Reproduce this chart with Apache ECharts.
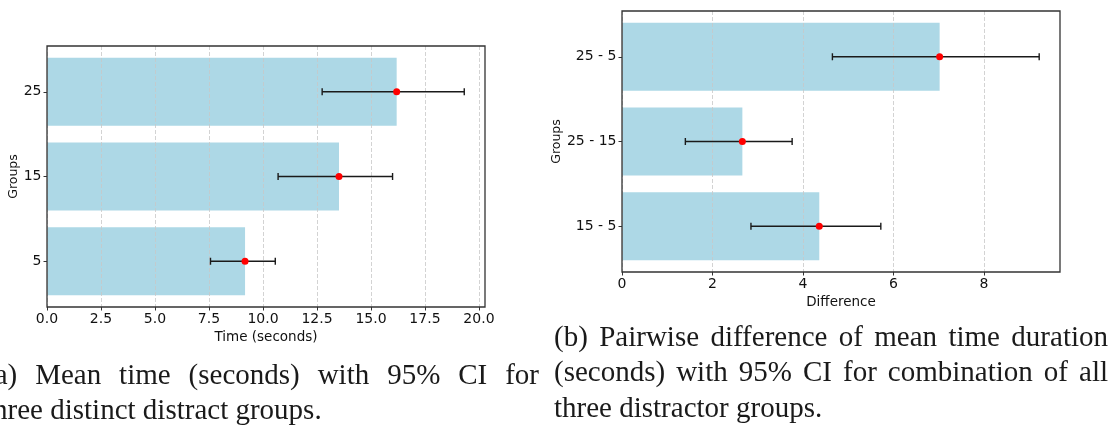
<!DOCTYPE html>
<html>
<head>
<meta charset="utf-8">
<script src="https://cdn.jsdelivr.net/npm/echarts@6/dist/echarts.min.js"></script>
<style>
  html, body {
    margin: 0;
    padding: 0;
    background: #fff;
  }
  .page {
    position: relative;
    width: 1116px;
    height: 428px;
    overflow: hidden;
  }
  #chart {
    position: absolute;
    left: 0;
    top: 0;
    width: 1116px;
    height: 428px;
  }
  .caption {
    position: absolute;
    font-family: "Liberation Serif", "DejaVu Serif", serif;
    font-size: 29px;
    line-height: 35.3px;
    color: #1a1a1a;
  }
  .caption .just {
    text-align: justify;
    text-align-last: justify;
  }
  .cap-a {
    left: -15px;
    top: 357px;
    width: 554px;
  }
  .cap-b {
    left: 554px;
    top: 319px;
    width: 554px;
  }
</style>
</head>
<body>
<div class="page">
  <div id="chart"></div>
  <div class="caption cap-a">
    <div class="just">(a) Mean time (seconds) with 95% CI for</div>
    <div>three distinct distract groups.</div>
  </div>
  <div class="caption cap-b">
    <div class="just">(b) Pairwise difference of mean time duration</div>
    <div class="just">(seconds) with 95% CI for combination of all</div>
    <div>three distractor groups.</div>
  </div>
</div>

<script>
// (a) mean time per group, bottom to top
const leftGroups = ['5', '15', '25'];
const leftMeans = [9.17, 13.52, 16.19];
const leftLow = [7.57, 10.70, 12.74];
const leftHigh = [10.57, 16.00, 19.32];
const leftTicks = [0, 2.5, 5, 7.5, 10, 12.5, 15, 17.5, 20];

// (b) pairwise differences, bottom to top
const rightGroups = ['15 - 5', '25 - 15', '25 - 5'];
const rightMeans = [4.36, 2.66, 7.02];
const rightLow = [2.85, 1.40, 4.65];
const rightHigh = [5.72, 3.76, 9.22];
const rightTicks = [0, 2, 4, 6, 8];

const groupIdx = [0, 1, 2];
const font = 'DejaVu Sans';
const textColor = '#111';
const barColor = '#ADD8E6';

function barItem(params, api) {
  const v = api.value(0);
  const i = api.value(1);
  const p0 = api.coord([0, i + 0.4]);
  const p1 = api.coord([v, i - 0.4]);
  return {
    type: 'rect',
    shape: { x: p0[0], y: p0[1], width: p1[0] - p0[0], height: p1[1] - p0[1] },
    style: { fill: barColor }
  };
}

function errItem(params, api) {
  const a = api.coord([api.value(0), api.value(2)]);
  const b = api.coord([api.value(1), api.value(2)]);
  const cap = 3.5;
  const style = { stroke: '#1a1a1a', lineWidth: 1.4 };
  return {
    type: 'group',
    children: [
      { type: 'line', shape: { x1: a[0], y1: a[1], x2: b[0], y2: b[1] }, style },
      { type: 'line', shape: { x1: a[0], y1: a[1] - cap, x2: a[0], y2: a[1] + cap }, style },
      { type: 'line', shape: { x1: b[0], y1: b[1] - cap, x2: b[0], y2: b[1] + cap }, style }
    ]
  };
}

function xAxisFor(gridIndex, name, max, interval, ticks, fmt) {
  return {
    type: 'value',
    gridIndex,
    min: 0,
    max,
    interval,
    z: 3,
    name,
    nameLocation: 'middle',
    nameGap: 22,
    nameTextStyle: { fontFamily: font, fontSize: 13.5, color: textColor },
    axisLine: { show: false, onZero: false },
    axisTick: { show: true, length: 3.5, customValues: ticks, lineStyle: { color: '#333', width: 1 } },
    axisLabel: { customValues: ticks, formatter: fmt, margin: 5, fontFamily: font, fontSize: 14, color: textColor },
    splitLine: { show: true, lineStyle: { color: '#c8c8c8', width: 0.8, type: [4, 2] } }
  };
}

function yAxisFor(gridIndex, names, gap) {
  return {
    type: 'value',
    gridIndex,
    min: -0.54,
    max: 2.54,
    z: 3,
    name: 'Groups',
    nameLocation: 'middle',
    nameRotate: 90,
    nameGap: gap,
    nameTextStyle: { fontFamily: font, fontSize: 12.5, color: textColor },
    axisLine: { show: false, onZero: false },
    axisTick: { show: true, length: 3.5, customValues: groupIdx, lineStyle: { color: '#333', width: 1 } },
    axisLabel: {
      customValues: groupIdx,
      formatter: v => names[Math.round(v)],
      margin: 5.5,
      fontFamily: font,
      fontSize: 14,
      color: textColor
    },
    splitLine: { show: false }
  };
}

function seriesFor(k, means, low, high) {
  return [
    {
      type: 'custom',
      xAxisIndex: k,
      yAxisIndex: k,
      z: 2,
      silent: true,
      renderItem: barItem,
      encode: { x: 0, y: 1 },
      data: means.map((v, i) => [v, i])
    },
    {
      type: 'custom',
      xAxisIndex: k,
      yAxisIndex: k,
      z: 4,
      silent: true,
      renderItem: errItem,
      encode: { x: [0, 1], y: 2 },
      data: low.map((lo, i) => [lo, high[i], i])
    },
    {
      type: 'scatter',
      xAxisIndex: k,
      yAxisIndex: k,
      z: 5,
      silent: true,
      symbolSize: 7,
      itemStyle: { color: '#ff0000', opacity: 1 },
      data: means.map((v, i) => [v, i])
    }
  ];
}

const chart = echarts.init(document.getElementById('chart'));
chart.setOption({
  animation: false,
  backgroundColor: '#fff',
  grid: [
    { left: 47, top: 46, width: 438, height: 261, show: true, z: 10, borderColor: '#333', borderWidth: 1.3, backgroundColor: 'transparent' },
    { left: 622, top: 11, width: 438, height: 261, show: true, z: 10, borderColor: '#333', borderWidth: 1.3, backgroundColor: 'transparent' }
  ],
  xAxis: [
    xAxisFor(0, 'Time (seconds)', 20.28, 2.5, leftTicks, v => v.toFixed(1)),
    xAxisFor(1, 'Difference', 9.68, 2, rightTicks, v => String(v))
  ],
  yAxis: [
    yAxisFor(0, leftGroups, 26),
    yAxisFor(1, rightGroups, 58)
  ],
  series: [
    ...seriesFor(0, leftMeans, leftLow, leftHigh),
    ...seriesFor(1, rightMeans, rightLow, rightHigh)
  ]
});

window.addEventListener('resize', () => chart.resize());
</script>
</body>
</html>
